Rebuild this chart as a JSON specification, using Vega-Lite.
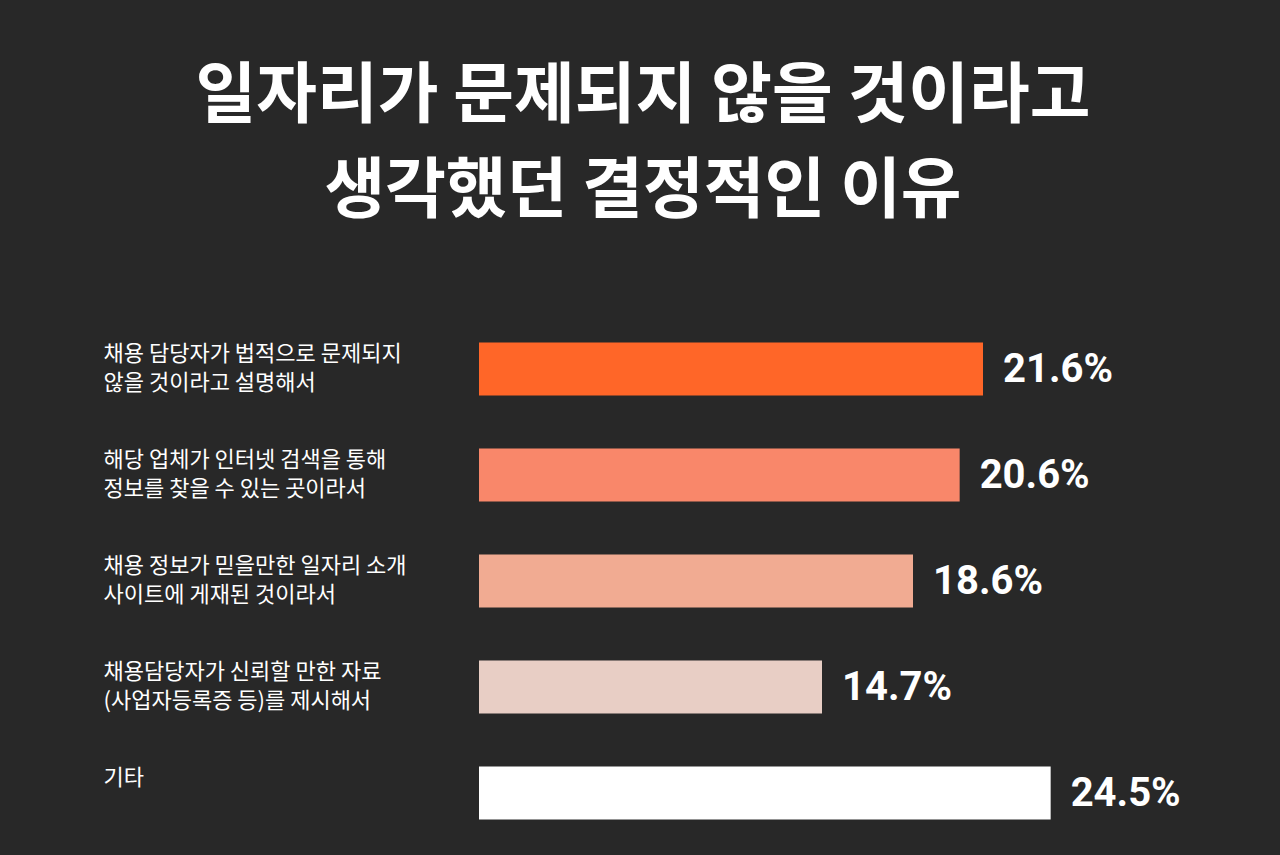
{
  "$schema": "https://vega.github.io/schema/vega-lite/v6.json",
  "width": 700,
  "height": 530,
  "autosize": {"type": "none"},
  "padding": {"left": 479, "top": 316, "right": 101, "bottom": 9},
  "background": "#282828",
  "title": {
    "text": ["일자리가 문제되지 않을 것이라고", "생각했던 결정적인 이유"],
    "anchor": "middle",
    "frame": "group",
    "orient": "top",
    "dx": -186,
    "offset": 90,
    "font": "Noto Sans CJK KR",
    "fontSize": 66,
    "fontWeight": "bold",
    "lineHeight": 95,
    "color": "#ffffff"
  },
  "data": {
    "values": [
      {"reason": "채용 담당자가 법적으로 문제되지\n않을 것이라고 설명해서", "share": 0.216},
      {"reason": "해당 업체가 인터넷 검색을 통해\n정보를 찾을 수 있는 곳이라서", "share": 0.206},
      {"reason": "채용 정보가 믿을만한 일자리 소개\n사이트에 게재된 것이라서", "share": 0.186},
      {"reason": "채용담당자가 신뢰할 만한 자료\n(사업자등록증 등)를 제시해서", "share": 0.147},
      {"reason": "기타", "share": 0.245}
    ]
  },
  "encoding": {
    "y": {
      "field": "reason",
      "type": "nominal",
      "sort": null,
      "scale": {"paddingInner": 0.5, "paddingOuter": 0.25},
      "axis": {
        "title": null,
        "domain": false,
        "ticks": false,
        "grid": false,
        "labelAlign": "left",
        "labelBaseline": "top",
        "labelPadding": 376,
        "labelOffset": -25,
        "labelFont": "Noto Sans CJK KR",
        "labelFontSize": 22,
        "labelLineHeight": 29,
        "labelColor": "#ffffff",
        "labelLimit": 400,
        "labelBound": false,
        "labelExpr": "split(datum.value, '\\n')"
      }
    },
    "x": {
      "field": "share",
      "type": "quantitative",
      "scale": {"domain": [0, 0.3], "nice": false},
      "axis": null
    }
  },
  "layer": [
    {
      "mark": {"type": "bar"},
      "encoding": {
        "color": {
          "field": "reason",
          "type": "nominal",
          "scale": {
            "domain": [
              "채용 담당자가 법적으로 문제되지\n않을 것이라고 설명해서",
              "해당 업체가 인터넷 검색을 통해\n정보를 찾을 수 있는 곳이라서",
              "채용 정보가 믿을만한 일자리 소개\n사이트에 게재된 것이라서",
              "채용담당자가 신뢰할 만한 자료\n(사업자등록증 등)를 제시해서",
              "기타"
            ],
            "range": ["#FF6628", "#F9876A", "#F1AB92", "#E8CEC5", "#FFFFFF"]
          },
          "legend": null
        }
      }
    },
    {
      "mark": {
        "type": "text",
        "align": "left",
        "baseline": "middle",
        "dx": 20,
        "dy": 1,
        "font": "Roboto",
        "fontWeight": "bold",
        "fontSize": 40,
        "color": "#ffffff"
      },
      "encoding": {
        "text": {"field": "share", "type": "quantitative", "format": ".1%"}
      }
    }
  ],
  "config": {"view": {"stroke": null}}
}
